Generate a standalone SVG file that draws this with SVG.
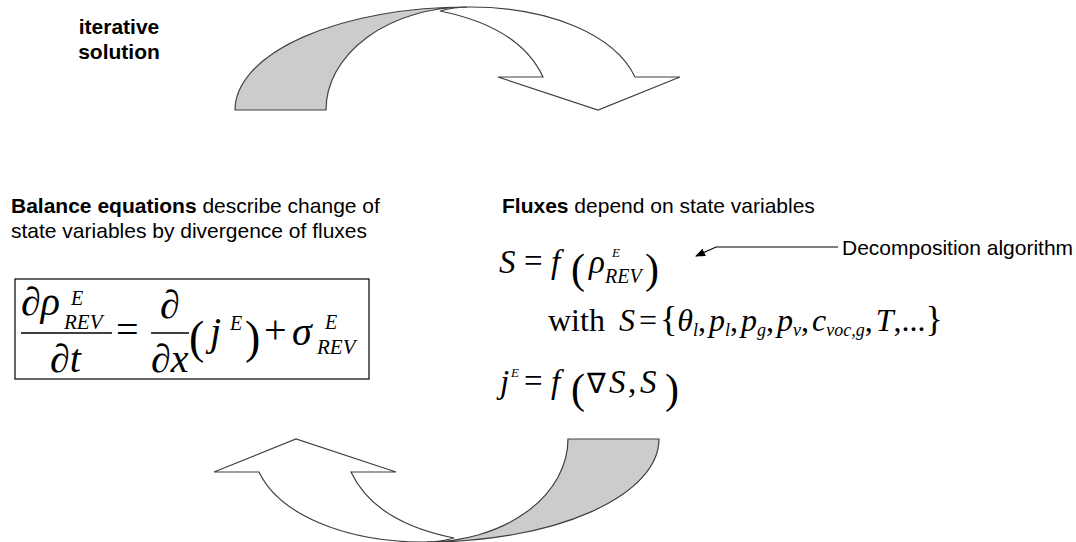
<svg xmlns="http://www.w3.org/2000/svg" xmlns:xlink="http://www.w3.org/1999/xlink" width="1076" height="542" viewBox="0 0 1076 542">
<style>
.lbl{font-family:"Liberation Sans",Arial,sans-serif;font-size:21px;fill:#000}
.b{font-weight:bold}
.m{font-family:"Liberation Serif","Times New Roman",serif;font-size:40px;fill:#000}
.n{font-family:"Liberation Serif","Times New Roman",serif;font-size:33px;fill:#000}
.r{font-family:"Liberation Serif","Times New Roman",serif;fill:#000}
.i{font-style:italic}
.s{font-size:20px}
.ss{font-size:13px}
.sh{stroke:#404040;stroke-width:1.2;stroke-linejoin:miter}
</style>
<defs>
<g id="curvedArrow">
<path class="sh" fill="#ffffff" d="M440,11 C450,8 460,7 470,7 C550,7 615,35 635,77 L680,77 L598,110 L498,77 L543,77 C528,45 495,22 440,11 Z"/>
<path class="sh" fill="#cccccc" d="M235,110 A232,103 0 0 1 467,7 A141,103 0 0 0 326,110 Z"/>
</g>
<marker id="ah" markerWidth="10" markerHeight="8" refX="9" refY="4" orient="auto" markerUnits="userSpaceOnUse" viewBox="0 0 10 8">
<path d="M0,0 L10,4 L0,8 Z" fill="#000"/>
</marker>
</defs>

<g id="connectors">
<use id="arrow-top" xlink:href="#curvedArrow"/>
<use id="arrow-bottom" xlink:href="#curvedArrow" transform="rotate(180 447 274.5)"/>
<polyline id="decomp-arrow" points="838,247 716,247 696,256" fill="none" stroke="#000" stroke-width="1.2" marker-end="url(#ah)"/>
</g>

<g id="iterative">
<text class="lbl b" x="119" y="34" text-anchor="middle">iterative</text>
<text class="lbl b" x="119" y="59" text-anchor="middle">solution</text>
</g>

<g id="balance">
<text class="lbl" x="11" y="213"><tspan class="b">Balance equations</tspan> describe change of</text>
<text class="lbl" x="11" y="238">state variables by divergence of fluxes</text>
<rect x="15" y="279" width="354" height="100" fill="none" stroke="#000" stroke-width="1.2"/>
<text class="m i" x="21" y="315">∂ρ</text>
<text class="r i s" x="71" y="305">E</text>
<text class="r i" font-size="21" x="64" y="329">REV</text>
<line x1="21" y1="333" x2="112" y2="333" stroke="#000" stroke-width="1.5"/>
<text class="m i" x="50" y="372">∂t</text>
<text class="m" x="116" y="343">=</text>
<text class="m i" x="160" y="318">∂</text>
<line x1="151" y1="333" x2="189" y2="333" stroke="#000" stroke-width="1.5"/>
<text class="m i" x="151" y="372">∂x</text>
<text class="r" font-size="46" x="189" y="353">(</text>
<text class="m i" x="210" y="345">j</text>
<text class="r i s" x="230" y="330">E</text>
<text class="r" font-size="46" x="245" y="353">)</text>
<text class="m" x="264" y="343">+</text>
<text class="m i" x="292" y="345">σ</text>
<text class="r i s" x="325" y="329">E</text>
<text class="r i" font-size="21" x="317" y="354">REV</text>
</g>

<g id="fluxes">
<text class="lbl" x="502" y="213"><tspan class="b">Fluxes</tspan> depend on state variables</text>
<text class="n i" x="499" y="273">S</text>
<text class="n" x="524" y="272">=</text>
<text class="n i" x="551" y="273">f</text>
<text class="r" font-size="42" x="571" y="283">(</text>
<text class="n i" x="589" y="273">ρ</text>
<text class="r i ss" x="612" y="257">E</text>
<text class="r i s" x="605" y="283">REV</text>
<text class="r" font-size="42" x="645" y="283">)</text>

<text class="r" font-size="32" x="548" y="331">with<tspan class="i" dx="14">S</tspan><tspan dx="4">=</tspan><tspan font-size="36" dx="3">{</tspan><tspan class="i">θ</tspan><tspan class="i" font-size="18" dy="5">l</tspan><tspan dy="-5">,</tspan><tspan class="i" dx="3">p</tspan><tspan class="i" font-size="18" dy="5">l</tspan><tspan dy="-5">,</tspan><tspan class="i" dx="3">p</tspan><tspan class="i" font-size="18" dy="5">g</tspan><tspan dy="-5">,</tspan><tspan class="i" dx="3">p</tspan><tspan class="i" font-size="18" dy="5">v</tspan><tspan dy="-5">,</tspan><tspan class="i" dx="3">c</tspan><tspan class="i" font-size="18" dy="5">voc,g</tspan><tspan dy="-5">,</tspan><tspan class="i" dx="3">T</tspan><tspan>,...</tspan><tspan font-size="36">}</tspan></text>

<text class="n i" x="500" y="393">j</text>
<text class="r i ss" x="511" y="377">E</text>
<text class="n" x="524" y="392">=</text>
<text class="n i" x="551" y="393">f</text>
<text class="r" font-size="42" x="571" y="403">(</text>
<text class="r" font-size="28" x="587" y="393">∇</text>
<text class="n i" x="609" y="393">S</text>
<text class="n" x="628" y="393">,</text>
<text class="n i" x="640" y="393">S</text>
<text class="r" font-size="42" x="665" y="403">)</text>
</g>

<g id="decomposition">
<text class="lbl" x="842" y="255">Decomposition algorithm</text>
</g>
</svg>
